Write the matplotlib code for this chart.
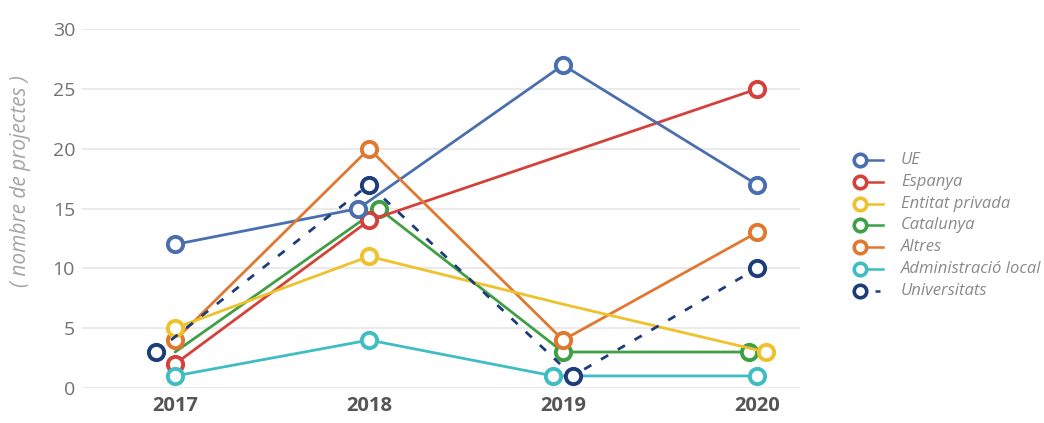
import matplotlib
matplotlib.use("Agg")
import matplotlib.pyplot as plt
from matplotlib.lines import Line2D

plt.rcParams["font.family"] = ["Open Sans", "DejaVu Sans"]

years = [2017, 2018, 2019, 2020]
series_names = ["UE", "Espanya", "Entitat privada", "Catalunya", "Altres",
                "Administració local", "Universitats"]
ue = [12, 15, 27, 17]
espanya = [2, 14, 19.5, 25]
entitat_privada = [5, 11, 7, 3]
catalunya = [3, 15, 3, 3]
altres = [4, 20, 4, 13]
administracio_local = [1, 4, 1, 1]
universitats = [3, 17, 1, 10]
y_ticks = [0, 5, 10, 15, 20, 25, 30]

values = [ue, espanya, entitat_privada, catalunya, altres,
          administracio_local, universitats]

# styling per series: colour, line style, which points get a ring marker,
# and a small horizontal nudge so overlapping rings stay visible
colors = ["#4a6fae", "#d4413b", "#efc12a", "#3f9f45", "#e0782f",
          "#3fbdc4", "#1d3d7a"]
linestyles = ["-", "-", "-", "-", "-", "-", (0, (3, 4))]
marked = [[0, 1, 2, 3], [0, 1, 3], [0, 1, 3], [1, 2, 3], [0, 1, 2, 3],
          [0, 1, 2, 3], [0, 1, 2, 3]]
nudges = [[0, -0.055, 0, 0], [0, 0, 0, 0], [0, 0, 0, 0.045],
          [0, 0.05, 0, -0.04], [0, 0, 0, 0], [0, 0, -0.05, 0],
          [-0.1, 0, 0.05, 0]]
zorders = [5, 4, 6, 3, 5, 4, 7]

fig = plt.figure(figsize=(10.44, 4.23), dpi=100)
ax = fig.add_axes([0.0785, 0.083, 0.6875, 0.848])

for name, vals, c, ls, mk, nd, z in zip(series_names, values, colors,
                                         linestyles, marked, nudges, zorders):
    xs = [yr + d for yr, d in zip(years, nd)]
    ax.plot(xs, vals, color=c, lw=2.0, linestyle=ls, zorder=z,
            clip_on=False, solid_capstyle="round")
    ax.plot([xs[i] for i in mk], [vals[i] for i in mk], linestyle="none",
            marker="o", ms=11, mfc="white", mec=c, mew=2.8, zorder=z + 0.5,
            clip_on=False)

ax.set_xlim(2016.52, 2020.22)
ax.set_ylim(0, 30)
ax.set_xticks(years)
ax.set_xticklabels([str(y) for y in years], fontsize=14.5, fontweight="bold",
                   color="#555555")
ax.set_yticks(y_ticks)
ax.set_yticklabels([str(v) for v in y_ticks], fontsize=14, color="#727272")
ax.tick_params(axis="both", length=0)
ax.tick_params(axis="x", pad=6)
ax.tick_params(axis="y", pad=5)
ax.grid(axis="y", color="#e6e6e6", lw=1.2)
ax.set_axisbelow(True)
for s in ax.spines.values():
    s.set_visible(False)

fig.text(21 / 1044, 1 - 181 / 423, "( nombre de projectes )", rotation=90,
         ha="center", va="center", fontsize=15, color="#a4a4a4",
         style="italic")

# legend: ring marker with a short trailing line, then the label
row0, row_step = 160, 21.8
for i, (name, c, ls) in enumerate(zip(series_names, colors, linestyles)):
    yf = 1 - (row0 + i * row_step) / 423
    fig.add_artist(Line2D([860 / 1044, 883 / 1044], [yf, yf], color=c,
                          lw=1.8, linestyle=ls if ls == "-" else (0, (2, 4)),
                          transform=fig.transFigure))
    fig.add_artist(Line2D([860 / 1044], [yf], linestyle="none", marker="o",
                          ms=9, mfc="white", mec=c, mew=2.6,
                          transform=fig.transFigure))
    fig.text(901 / 1044, yf, name, ha="left", va="center", fontsize=12,
             style="italic", color="#8a8a8a")

fig.savefig("out.png", dpi=100)
